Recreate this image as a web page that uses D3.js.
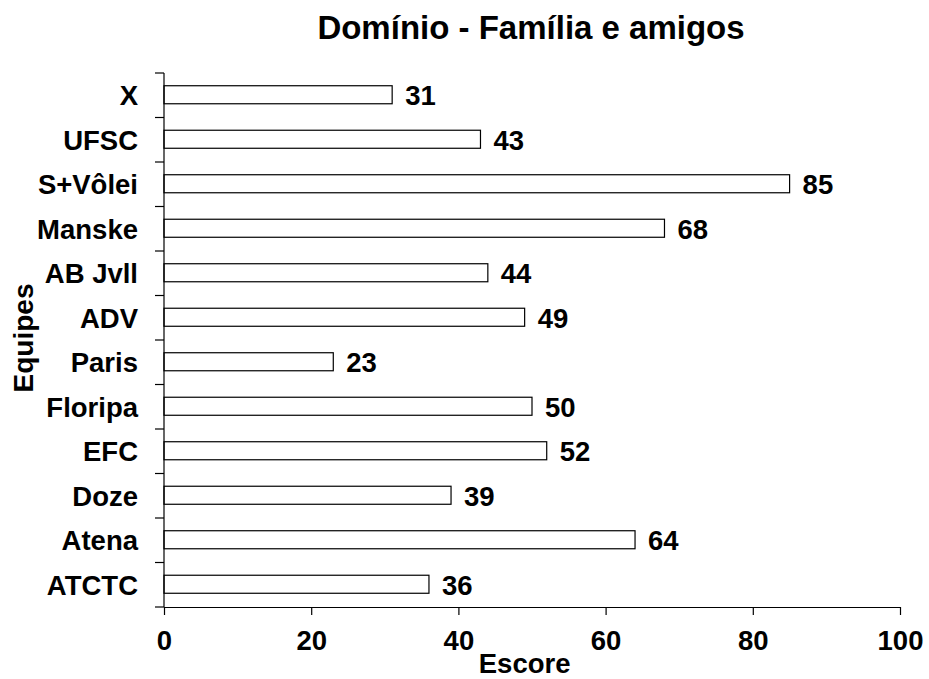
<!DOCTYPE html>
<html>
<head>
<meta charset="utf-8">
<script src="https://cdn.jsdelivr.net/npm/d3@7"></script>
<style>
  html, body { margin: 0; padding: 0; background: #fff; }
  svg { display: block; }
  text { font-family: "Liberation Sans", Arial, sans-serif; font-weight: bold; fill: #000; }
</style>
</head>
<body>
<svg id="chart" width="929" height="679"></svg>
<script>
// Teams, listed top to bottom
const teams = ["X", "UFSC", "S+Vôlei", "Manske", "AB Jvll", "ADV", "Paris", "Floripa", "EFC", "Doze", "Atena", "ATCTC"];
// Score of each team
const scores = [31, 43, 85, 68, 44, 49, 23, 50, 52, 39, 64, 36];
// Score axis ticks
const scoreTicks = [0, 20, 40, 60, 80, 100];

const titleText = "Domínio - Família e amigos";
const xTitle = "Escore";
const yTitle = "Equipes";

const margin = { top: 73, right: 29, bottom: 72, left: 164 };
const width = 929, height = 679;
const innerW = width - margin.left - margin.right;
const innerH = height - margin.top - margin.bottom;
const labelSize = 27.5;

const svg = d3.select("#chart");
const g = svg.append("g").attr("transform", `translate(${margin.left},${margin.top})`);

const x = d3.scaleLinear().domain([0, 100]).range([0, innerW]);
const y = d3.scaleBand().domain(teams).range([0, innerH]).paddingInner(0.595).paddingOuter(0.2975);

// Category boundaries for the vertical axis ticks
const bounds = d3.scaleLinear().domain([0, teams.length]).range([0, innerH]);

const rows = teams.map((t, i) => ({ team: t, value: scores[i] }));

// Bars
g.selectAll("rect.bar")
  .data(rows)
  .join("rect")
  .attr("class", "bar")
  .attr("x", x(0))
  .attr("y", d => y(d.team) - 0.5)
  .attr("width", d => x(d.value) - x(0))
  .attr("height", y.bandwidth())
  .attr("fill", "#fff")
  .attr("stroke", "#000")
  .attr("stroke-width", 1.2);

// Value labels
g.selectAll("text.val")
  .data(rows)
  .join("text")
  .attr("class", "val")
  .attr("x", d => x(d.value) + 13)
  .attr("y", d => y(d.team) + y.bandwidth() / 2)
  .attr("dy", "0.36em")
  .attr("font-size", labelSize)
  .text(d => d.value);

// Horizontal axis
const xAxis = g.append("g")
  .attr("transform", `translate(0,${innerH})`)
  .call(d3.axisBottom(x).tickValues(scoreTicks).tickSize(8).tickSizeOuter(0).tickPadding(15));
xAxis.select(".domain").attr("stroke", "#000").attr("stroke-width", 1.2);
xAxis.selectAll(".tick line").attr("stroke", "#000").attr("stroke-width", 1.2);
xAxis.selectAll(".tick text").attr("font-size", labelSize).attr("font-family", null).attr("dy", "0.71em");

// Vertical axis line with ticks at category boundaries
const yAxis = g.append("g");
yAxis.append("line")
  .attr("x1", 0).attr("x2", 0)
  .attr("y1", bounds(0)).attr("y2", bounds(teams.length))
  .attr("stroke", "#000").attr("stroke-width", 1.2);
yAxis.selectAll("line.tk")
  .data(d3.range(teams.length + 1))
  .join("line")
  .attr("class", "tk")
  .attr("x1", -9).attr("x2", 0)
  .attr("y1", d => bounds(d)).attr("y2", d => bounds(d))
  .attr("stroke", "#000").attr("stroke-width", 1.2);

// Category labels
yAxis.selectAll("text.cat")
  .data(teams)
  .join("text")
  .attr("class", "cat")
  .attr("x", -26)
  .attr("y", d => y(d) + y.bandwidth() / 2)
  .attr("dy", "0.36em")
  .attr("text-anchor", "end")
  .attr("font-size", labelSize)
  .text(d => d);

// Title
svg.append("text")
  .attr("x", 531).attr("y", 39)
  .attr("text-anchor", "middle")
  .attr("font-size", 33)
  .text(titleText);

// Axis titles
svg.append("text")
  .attr("x", margin.left + x(49)).attr("y", 673)
  .attr("text-anchor", "middle")
  .attr("font-size", labelSize)
  .text(xTitle);

svg.append("text")
  .attr("transform", "translate(33,338) rotate(-90)")
  .attr("text-anchor", "middle")
  .attr("font-size", 28)
  .text(yTitle);
</script>
</body>
</html>
